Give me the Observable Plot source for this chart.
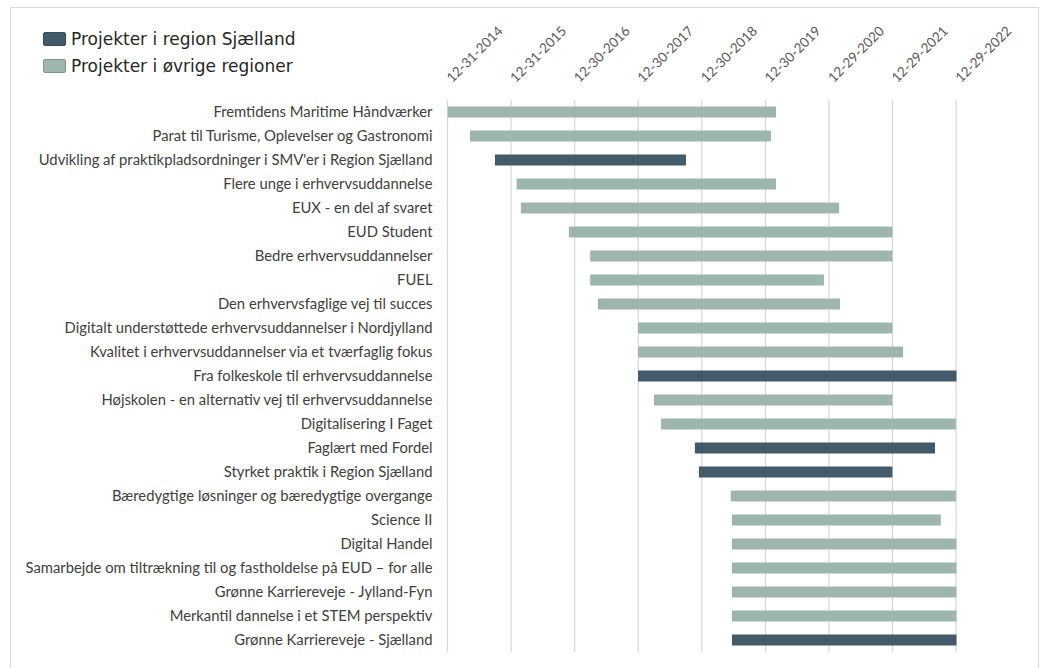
<!DOCTYPE html>
<html>
<head>
<meta charset="utf-8">
<script src="https://cdn.jsdelivr.net/npm/d3@7"></script>
<script src="https://cdn.jsdelivr.net/npm/@observablehq/plot@0.6"></script>
<style>
  html, body { margin: 0; padding: 0; background: #fff; }
  #wrap { position: relative; width: 1041px; height: 668px; overflow: hidden; }
  #frame { position: absolute; left: 10px; top: 7px; width: 1029px; height: 680px; border: 1px solid #d9d9d9; box-sizing: border-box; }
  #chart { position: absolute; left: 0; top: 0; }
  #legend { position: absolute; left: 43px; top: 25px; font-family: "DejaVu Sans", sans-serif; font-size: 17px; color: #262626; }
  .item { display: flex; align-items: center; height: 27.5px; }
  .sw { width: 23px; height: 14px; border-radius: 2px; margin-right: 5px; box-sizing: border-box; }
</style>
</head>
<body>
<div id="wrap">
  <div id="frame"></div>
  <div id="chart"></div>
  <div id="legend"></div>
</div>
<script>
const projects = [
  "Fremtidens Maritime Håndværker",
  "Parat til Turisme, Oplevelser og Gastronomi",
  "Udvikling af praktikpladsordninger i SMV'er i Region Sjælland",
  "Flere unge i erhvervsuddannelse",
  "EUX - en del af svaret",
  "EUD Student",
  "Bedre erhvervsuddannelser",
  "FUEL",
  "Den erhvervsfaglige vej til succes",
  "Digitalt understøttede erhvervsuddannelser i Nordjylland",
  "Kvalitet i erhvervsuddannelser via et tværfaglig fokus",
  "Fra folkeskole til erhvervsuddannelse",
  "Højskolen - en alternativ vej til erhvervsuddannelse",
  "Digitalisering I Faget",
  "Faglært med Fordel",
  "Styrket praktik i Region Sjælland",
  "Bæredygtige løsninger og bæredygtige overgange",
  "Science II",
  "Digital Handel",
  "Samarbejde om tiltrækning til og fastholdelse på EUD – for alle",
  "Grønne Karriereveje - Jylland-Fyn",
  "Merkantil dannelse i et STEM perspektiv",
  "Grønne Karriereveje - Sjælland"
];
const startDates = [
  "2015-01-04","2015-05-12","2015-10-02","2016-02-04","2016-02-28","2016-11-30",
  "2017-04-01","2017-04-01","2017-05-15","2018-01-01","2018-01-01","2018-01-01",
  "2018-04-02","2018-05-13","2018-11-23","2018-12-16","2019-06-17","2019-06-24",
  "2019-06-24","2019-06-24","2019-06-24","2019-06-24","2019-06-24"
];
const endDates = [
  "2020-03-03","2020-02-03","2018-10-03","2020-03-03","2021-02-28","2021-12-31",
  "2021-12-31","2020-12-03","2021-03-05","2021-12-31","2022-03-02","2023-01-03",
  "2021-12-31","2022-12-31","2022-09-02","2021-12-31","2022-12-31","2022-10-05",
  "2023-01-03","2023-01-03","2023-01-03","2023-01-03","2023-01-03"
];
const seriesNames = ["Projekter i region Sjælland", "Projekter i øvrige regioner"];
const seriesColors = ["#435A6A", "#9DB7AD"];
const projectSeries = [
  1,1,0,1,1,1,1,1,1,1,1,0,1,1,0,0,1,1,1,1,1,1,0
];
const tickDates = ["2014-12-31","2015-12-31","2016-12-30","2017-12-30","2018-12-30","2019-12-30","2020-12-29","2021-12-29","2022-12-29"];
const tickLabels = ["12-31-2014","12-31-2015","12-30-2016","12-30-2017","12-30-2018","12-30-2019","12-29-2020","12-29-2021","12-29-2022"];
const axisDomain = ["2014-12-31", "2023-11-12"];

const parse = d3.utcParse("%Y-%m-%d");
const rows = projects.map((p, i) => ({
  name: p,
  start: parse(startDates[i]),
  end: parse(endDates[i]),
  series: seriesNames[projectSeries[i]]
}));
const ticks = tickDates.map((d, i) => ({date: parse(d), label: tickLabels[i]}));

const chart = Plot.plot({
  width: 1041,
  height: 668,
  marginLeft: 447,
  marginRight: 30,
  marginTop: 100,
  marginBottom: 16,
  style: {fontFamily: "Lato, sans-serif", background: "transparent"},
  x: {type: "utc", domain: axisDomain.map(parse), axis: null},
  y: {domain: projects, padding: 0, axis: null},
  color: {domain: seriesNames, range: seriesColors},
  marks: [
    Plot.ruleX(ticks, {x: "date", stroke: "#d9d9d9", strokeWidth: 1.3}),
    Plot.barX(rows, {y: "name", x1: "start", x2: "end", fill: "series", insetTop: 6.5, insetBottom: 6.5, insetLeft: 0, insetRight: 0}),
    Plot.axisY({tickSize: 0, tickPadding: 15, fontSize: 14.8, fill: "#404040", label: null}),
    Plot.text(ticks, {x: "date", text: "label", frameAnchor: "top", dy: -24, dx: -2, rotate: -45, textAnchor: "start", fontSize: 13.5, fill: "#595959"})
  ]
});
document.getElementById("chart").appendChild(chart);

const legend = document.getElementById("legend");
seriesNames.forEach((n, i) => {
  const item = document.createElement("div");
  item.className = "item";
  const sw = document.createElement("span");
  sw.className = "sw";
  sw.style.background = seriesColors[i];
  sw.style.border = "1.5px solid " + d3.color(seriesColors[i]).darker(0.6);
  const t = document.createElement("span");
  t.textContent = n;
  item.appendChild(sw);
  item.appendChild(t);
  legend.appendChild(item);
});
</script>
</body>
</html>
